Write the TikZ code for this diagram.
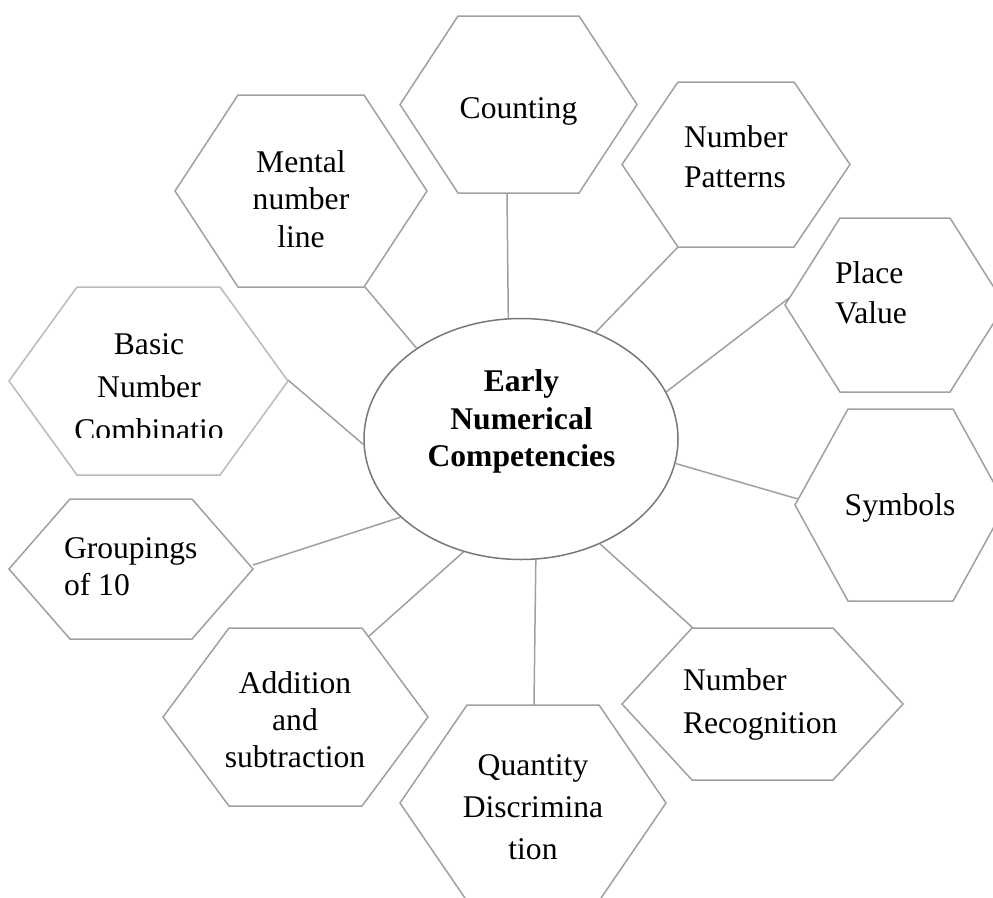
\documentclass[tikz,border=0pt]{standalone}
\usepackage{fontspec}
\setmainfont{Liberation Serif}
\usetikzlibrary{shapes.geometric}

\definecolor{hexgray}{RGB}{160,160,160}
\definecolor{hexpale}{RGB}{186,186,186}
\definecolor{ringgray}{RGB}{120,120,120}
\definecolor{linkgray}{RGB}{160,160,160}

% text size with a chosen line distance
\newcommand\lsz[1]{\fontsize{31.6}{#1}\selectfont}

% hexagon with pointed left/right ends:
% #1 colour, #2 cx, #3 cy, #4 half width, #5 half height, #6 inset of top/bottom edges
\newcommand\hexcell[6]{%
  \draw[hexline, draw=#1]
    ({#2-#4},#3) -- ({#2-#4+#6},{#3-#5}) -- ({#2+#4-#6},{#3-#5})
    -- ({#2+#4},#3) -- ({#2+#4-#6},{#3+#5}) -- ({#2-#4+#6},{#3+#5}) -- cycle;}

\tikzset{
  hexline/.style={line width=1.5pt, fill=white, line join=miter},
  link/.style={draw=linkgray, line width=1.5pt},
  lbl/.style={inner sep=0pt, outer sep=0pt, text=black},
}

\begin{document}
\begin{tikzpicture}[x=1pt,y=-1pt]
\useasboundingbox (0,0) rectangle (993,897);
\clip (0,0) rectangle (993,897);
\fill[white] (0,0) rectangle (993,897);

% central ellipse
\node[ellipse, draw=ringgray, fill=white, line width=1.5pt, inner sep=0pt,
      minimum width=314pt, minimum height=241pt] (core) at (521,439) {};

% connector ends on the hexagons
\coordinate (aCount)   at (507,193);
\coordinate (aMental)  at (365,287);
\coordinate (aPattern) at (678,247);
\coordinate (aPlace)   at (789,298);
\coordinate (aSym)     at (798,499);
\coordinate (aRecog)   at (693,628);
\coordinate (aQuant)   at (534,705);
\coordinate (aAdd)     at (368,637);
\coordinate (aGroup)   at (253,565);
\coordinate (aBasic)   at (288,380);

% connectors
\draw[link] (aCount)   -- (core.96.6);
\draw[link] (aMental)  -- (core.139.6);
\draw[link] (aPattern) -- (core.55.1);
\draw[link] (aPlace)   -- (core.18.8);
\draw[link] (aSym)     -- (core.-9.5);
\draw[link] (aRecog)   -- (core.-53.8);
\draw[link] (aQuant)   -- (core.-83.9);
\draw[link] (aAdd)     -- (core.243.2);
\draw[link] (aGroup)   -- (core.213.8);
\draw[link] (aBasic)   -- (core.182.6);

% hexagons
\hexcell{hexgray}{518.5}{104.5}{118.5}{88.5}{58}
\hexcell{hexgray}{301}{191}{126}{96}{63}
\hexcell{hexgray}{736}{164.5}{114}{82.5}{56}
\hexcell{hexgray}{895}{305}{110}{87}{55}
\hexcell{hexgray}{900.5}{505}{105.5}{96}{53}
\hexcell{hexgray}{762.5}{704}{140.5}{76}{70}
\hexcell{hexgray}{533}{803}{133}{98}{67}
\hexcell{hexgray}{295.5}{717}{132.5}{89}{66}
\hexcell{hexgray}{131}{569}{122}{70}{61}
\hexcell{hexpale}{148.5}{381}{139.5}{94}{68}

% labels
\node[lbl, font=\lsz{40}, align=center] (tCount) at (518.5,110) {\strut Counting};
\node[lbl, font=\lsz{37.5}, align=center] (tMental) at (301,202)
  {\strut Mental\\\strut number\\\strut line};
\node[lbl, font=\lsz{40}, align=left, anchor=west] (tPattern) at (684,159)
  {\strut Number\\\strut Patterns};
\node[lbl, font=\lsz{40}, align=left, anchor=west] (tPlace) at (835,295)
  {\strut Place\\\strut Value};
\node[lbl, font=\lsz{40}, align=center] (tSym) at (900,507) {\strut Symbols};
\node[lbl, font=\lsz{43}, align=left, anchor=west] (tRecog) at (683,702.9)
  {\strut Number\\\strut Recognition};
\node[lbl, font=\lsz{42}, align=center] (tQuant) at (533,808.6)
  {\strut Quantity\\\strut Discrimina\\\strut tion};
\node[lbl, font=\lsz{37}, align=center] (tAdd) at (295,722.6)
  {\strut Addition\\\strut and\\\strut subtraction};
\node[lbl, font=\lsz{37}, align=left, anchor=west] (tGroup) at (64,569.1)
  {\strut Groupings\\\strut of 10};
\begin{scope}
  \clip (0,280) rectangle (300,437);
  \node[lbl, font=\lsz{43}, align=center] (tBasic) at (149,388.4)
    {\strut Basic\\\strut Number\\\strut Combinatio};
\end{scope}
\node[lbl, font=\lsz{37.5}\bfseries, align=center] (tCore) at (521.5,421.5)
  {\strut Early\\\strut Numerical\\\strut Competencies};
\end{tikzpicture}
\end{document}
